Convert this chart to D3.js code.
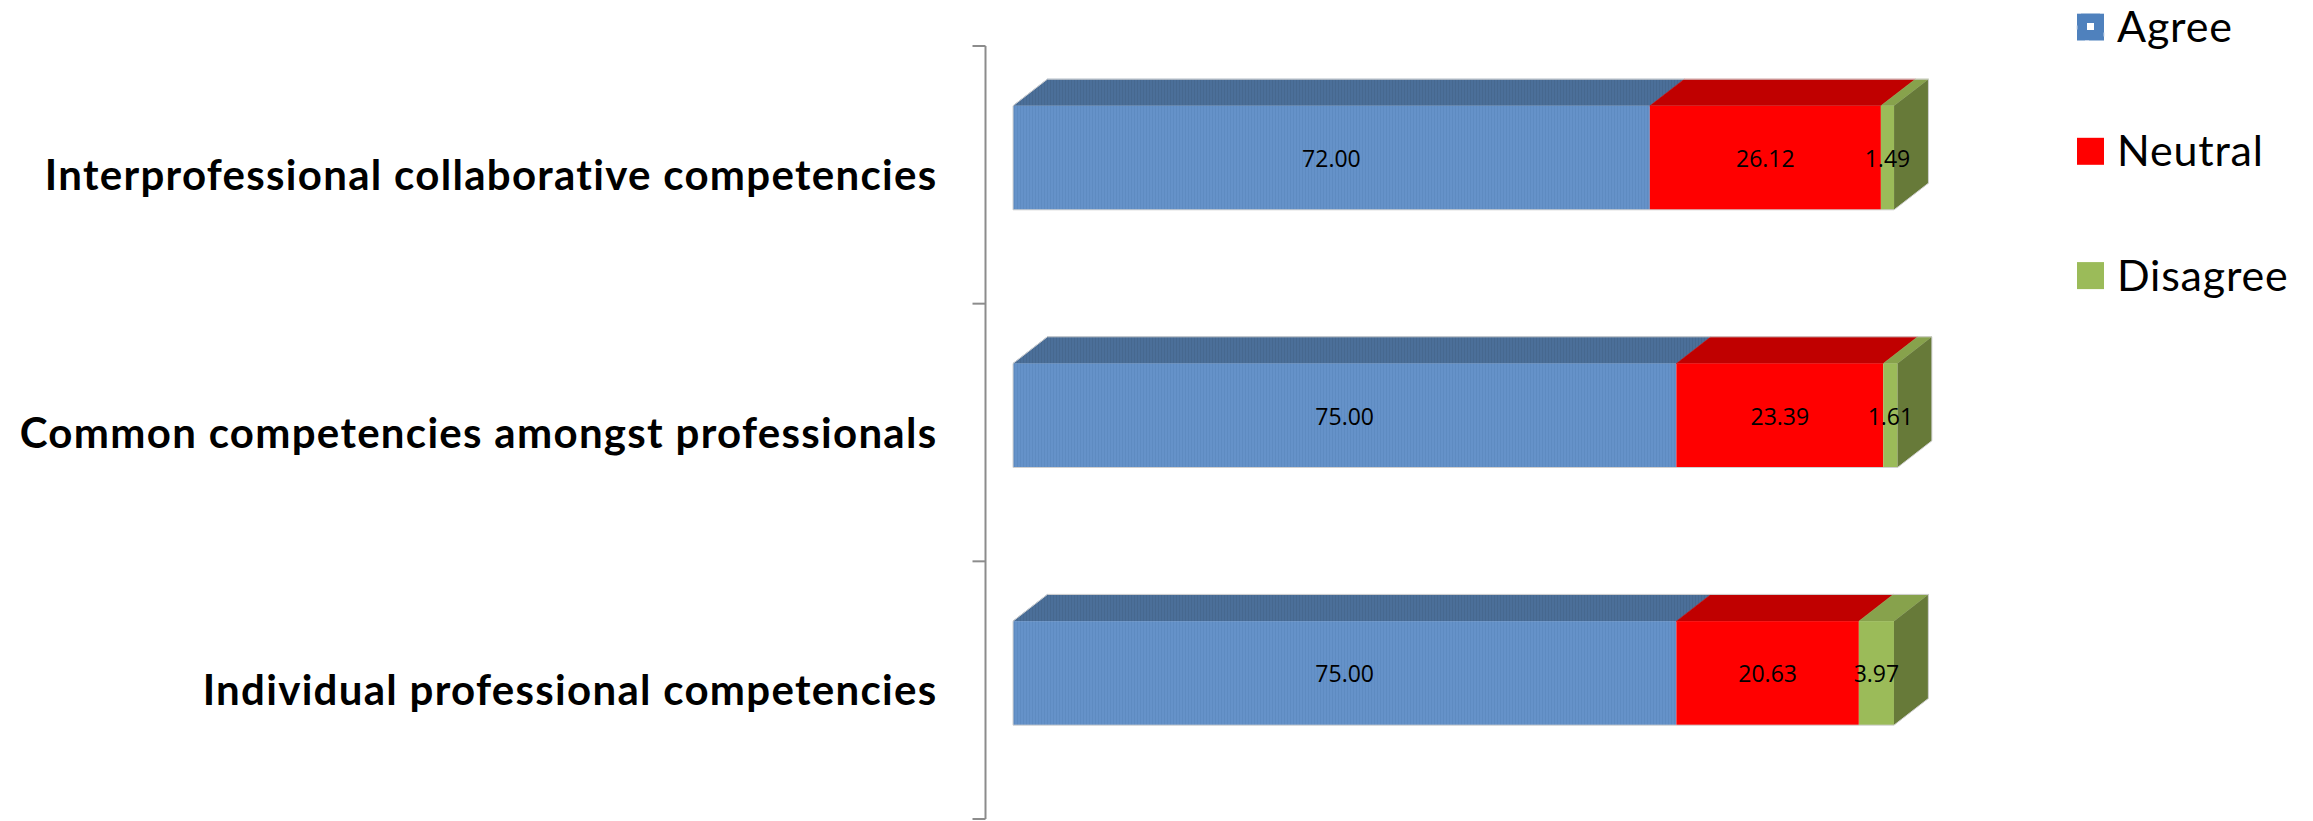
<!DOCTYPE html>
<html>
<head>
<meta charset="utf-8">
<script src="https://cdn.jsdelivr.net/npm/d3@7"></script>
<style>
  body { margin: 0; background: #fff; }
  svg { display: block; }
</style>
</head>
<body>
<div class="chartCont"></div>
<script>
var w = 2313;
var h = 821;

// data
const categories = [
  "Interprofessional collaborative competencies",
  "Common competencies amongst professionals",
  "Individual professional competencies"
];
const seriesNames = ["Agree", "Neutral", "Disagree"];
const agree    = [72.00, 75.00, 75.00];
const neutral  = [26.12, 23.39, 20.63];
const disagree = [1.49, 1.61, 3.97];

const frontColors = ["#6592c9", "#ff0000", "#9bbb59"];
const topColors   = ["#4b6f99", "#c00000", "#87a24c"];
const sideColors  = ["#4b6f99", "#a00000", "#677a39"];

var svg = d3.select(".chartCont").append("svg")
    .attr("width", w)
    .attr("height", h);

// blue fill has a fine stipple texture in the original
var defs = svg.append("defs");
var pat = defs.append("pattern")
    .attr("id", "blueTex")
    .attr("width", 3).attr("height", 3)
    .attr("patternUnits", "userSpaceOnUse");
pat.append("rect").attr("width", 3).attr("height", 3).attr("fill", "#6592c9");
pat.append("rect").attr("width", 1).attr("height", 3).attr("fill", "#5e8bc1");
var pat2 = defs.append("pattern")
    .attr("id", "blueTopTex")
    .attr("width", 3).attr("height", 3)
    .attr("patternUnits", "userSpaceOnUse");
pat2.append("rect").attr("width", 3).attr("height", 3).attr("fill", "#4b6f99");
pat2.append("rect").attr("width", 1).attr("height", 3).attr("fill", "#46688f");

const x = d3.scaleLinear()
    .domain([0, 100])
    .range([1013, 1897.5]);

const y = d3.scaleBand()
    .domain(categories)
    .range([46, 819])
    .padding(0);

const depthX = 34.4, depthY = 26.7;
const barH = 104;
const axisX = 985.5;

// stack the series
const rows = categories.map((c, i) => ({cat: c, agree: agree[i], neutral: neutral[i], disagree: disagree[i]}));
const stack = d3.stack().keys(["agree", "neutral", "disagree"]);
const series = stack(rows);

function frontTop(d) { return y(d.data.cat) + y.bandwidth() / 2 - 69; }

// category axis
svg.append("line")
    .attr("x1", axisX).attr("x2", axisX)
    .attr("y1", y.range()[0]).attr("y2", y.range()[1])
    .attr("stroke", "#8c8c8c").attr("stroke-width", 2);

const boundaries = [y.range()[0]].concat(categories.map(c => y(c) + y.bandwidth()));
svg.selectAll(".tick-b")
    .data(boundaries)
    .enter().append("line")
    .attr("class", "tick-b")
    .attr("x1", axisX - 13).attr("x2", axisX)
    .attr("y1", d => d).attr("y2", d => d)
    .attr("stroke", "#8c8c8c").attr("stroke-width", 2);

svg.selectAll(".cat-label")
    .data(categories)
    .enter().append("text")
    .attr("class", "cat-label")
    .attr("x", axisX - 48)
    .attr("y", d => y(d) + y.bandwidth() / 2 + 15)
    .attr("text-anchor", "end")
    .style("font-family", "Lato, 'Open Sans', sans-serif")
    .style("font-weight", "bold")
    .style("font-size", "42px")
    .style("letter-spacing", "1.3px")
    .attr("fill", "#000")
    .text(d => d);

// 3D bars: top faces, front faces, then the end side face
series.forEach((s, si) => {
  var g = svg.append("g").attr("class", "series-" + si);

  g.selectAll("path.top")
    .data(s)
    .enter().append("path")
    .attr("class", "top")
    .attr("d", d => {
      var x0 = x(d[0]), x1 = x(d[1]), t = frontTop(d);
      return "M" + x0 + "," + t + "L" + (x0 + depthX) + "," + (t - depthY) +
             "L" + (x1 + depthX) + "," + (t - depthY) + "L" + x1 + "," + t + "Z";
    })
    .attr("fill", si === 0 ? "url(#blueTopTex)" : topColors[si])
    .attr("stroke", topColors[si]).attr("stroke-width", 0.5);

  g.selectAll("rect.front")
    .data(s)
    .enter().append("rect")
    .attr("class", "front")
    .attr("x", d => x(d[0]))
    .attr("y", d => frontTop(d))
    .attr("width", d => x(d[1]) - x(d[0]))
    .attr("height", barH)
    .attr("fill", si === 0 ? "url(#blueTex)" : frontColors[si]);
});

// right side of last segment
svg.selectAll("path.side")
    .data(series[series.length - 1])
    .enter().append("path")
    .attr("class", "side")
    .attr("d", d => {
      var x1 = x(d[1]), t = frontTop(d);
      return "M" + x1 + "," + t + "L" + (x1 + depthX) + "," + (t - depthY) +
             "L" + (x1 + depthX) + "," + (t + barH - depthY) + "L" + x1 + "," + (t + barH) + "Z";
    })
    .attr("fill", sideColors[2]);

// light outline round the whole box
svg.selectAll("path.outline")
    .data(series[series.length - 1])
    .enter().append("path")
    .attr("class", "outline")
    .attr("d", d => {
      var t = frontTop(d), x0 = x(0), x1 = x(d[1]);
      return "M" + x0 + "," + t + "L" + (x0 + depthX) + "," + (t - depthY) +
             "L" + (x1 + depthX) + "," + (t - depthY) + "L" + (x1 + depthX) + "," + (t + barH - depthY) +
             "L" + x1 + "," + (t + barH) + "L" + x0 + "," + (t + barH) + "Z";
    })
    .attr("fill", "none")
    .attr("stroke", "#d0d0d0").attr("stroke-width", 1);

// value labels
const fmt = d3.format(".2f");
series.forEach((s, si) => {
  svg.selectAll("text.val-" + si)
    .data(s)
    .enter().append("text")
    .attr("class", "val-" + si)
    .attr("x", d => (x(d[0]) + x(d[1])) / 2)
    .attr("y", d => frontTop(d) + barH / 2)
    .attr("text-anchor", "middle")
    .attr("dominant-baseline", "central")
    .style("font-family", "'Open Sans', sans-serif")
    .style("font-size", "23px")
    .attr("fill", "#000")
    .text(d => fmt(d[1] - d[0]));
});

// legend
const legendY = d3.scalePoint()
    .domain(seriesNames)
    .range([27, 275.6]);

var legend = svg.selectAll(".legend")
    .data(seriesNames)
    .enter().append("g")
    .attr("class", "legend")
    .attr("transform", d => "translate(2077," + legendY(d) + ")");

legend.append("rect")
    .attr("x", 0).attr("y", -13.5)
    .attr("width", 27).attr("height", 27)
    .attr("fill", (d, i) => i === 0 ? "#4f81bd" : frontColors[i]);

// selected marker look on first legend key
legend.filter((d, i) => i === 0).append("rect")
    .attr("x", 10).attr("y", -4)
    .attr("width", 7).attr("height", 7)
    .attr("fill", "#fff");
legend.filter((d, i) => i === 0).append("rect")
    .attr("x", 0).attr("y", -13.5)
    .attr("width", 27).attr("height", 27)
    .attr("fill", "none")
    .attr("stroke", "#c9d7ea").attr("stroke-width", 1)
    .attr("stroke-dasharray", "4,19");

legend.append("text")
    .attr("x", 40)
    .attr("y", 15)
    .style("font-family", "Lato, 'Open Sans', sans-serif")
    .style("font-size", "43px")
    .style("letter-spacing", "0.8px")
    .attr("fill", "#000")
    .text(d => d);
</script>
</body>
</html>
